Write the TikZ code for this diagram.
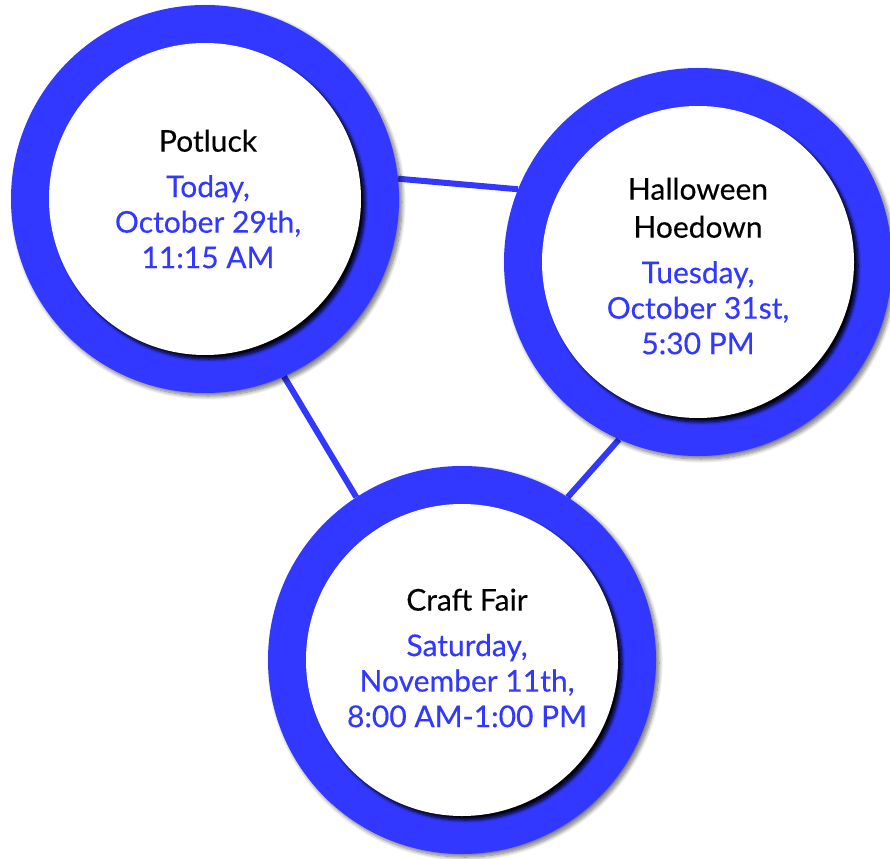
\documentclass[tikz,border=0pt]{standalone}
\usepackage{fontspec}
\setmainfont{Lato}[FakeBold=0.3]
\usetikzlibrary{shadows.blur}
\pgfdeclarelayer{background}
\pgfsetlayers{background,main}
\definecolor{ringblue}{RGB}{50,56,255}
\begin{document}
\begin{tikzpicture}[x=1pt,y=-1pt,
  ring/.style={circle, fill=ringblue, minimum size=388pt, inner sep=0pt,
    blur shadow={shadow xshift=3pt, shadow yshift=-3pt, shadow opacity=55, shadow blur steps=10, shadow blur radius=4pt}},
  disk/.style={circle, fill=white, minimum size=312pt, inner sep=0pt,
    blur shadow={shadow xshift=4pt, shadow yshift=-4pt, shadow opacity=95, shadow blur steps=10, shadow blur radius=3pt}},
  evtext/.style={align=center, font=\fontsize{30}{35.5}\selectfont, text=black},
  link/.style={draw=ringblue, line width=6pt}
]
\useasboundingbox (0,0) rectangle (890,858);

\node[ring] (c1) at (205,199) {};
\node[disk] (i1) at (205,199) {};
\node[ring] (c2) at (698,262) {};
\node[disk] (i2) at (698,262) {};
\node[ring] (c3) at (462,660) {};
\node[disk] (i3) at (462,660) {};

\node[evtext] (t1) at (208,199) {Potluck\\[10pt]\color{ringblue}Today,\\\color{ringblue}October 29th,\\\color{ringblue}11:15 AM};
\node[evtext] (t2) at (698,266) {Halloween\\[2.5pt]Hoedown\\[10pt]\color{ringblue}Tuesday,\\\color{ringblue}October 31st,\\\color{ringblue}5:30 PM};
\node[evtext] (t3) at (467,658) {Craft Fair\\[10pt]\color{ringblue}Saturday,\\\color{ringblue}November 11th,\\\color{ringblue}8:00 AM-1:00 PM};

\begin{pgfonlayer}{background}
\draw[link] (c1.6) -- (c2.158.6);
\draw[link] (c1.-66.7) -- (c3.123.2);
\draw[link] (c2.-114) -- (c3.57);
\end{pgfonlayer}
\end{tikzpicture}
\end{document}
